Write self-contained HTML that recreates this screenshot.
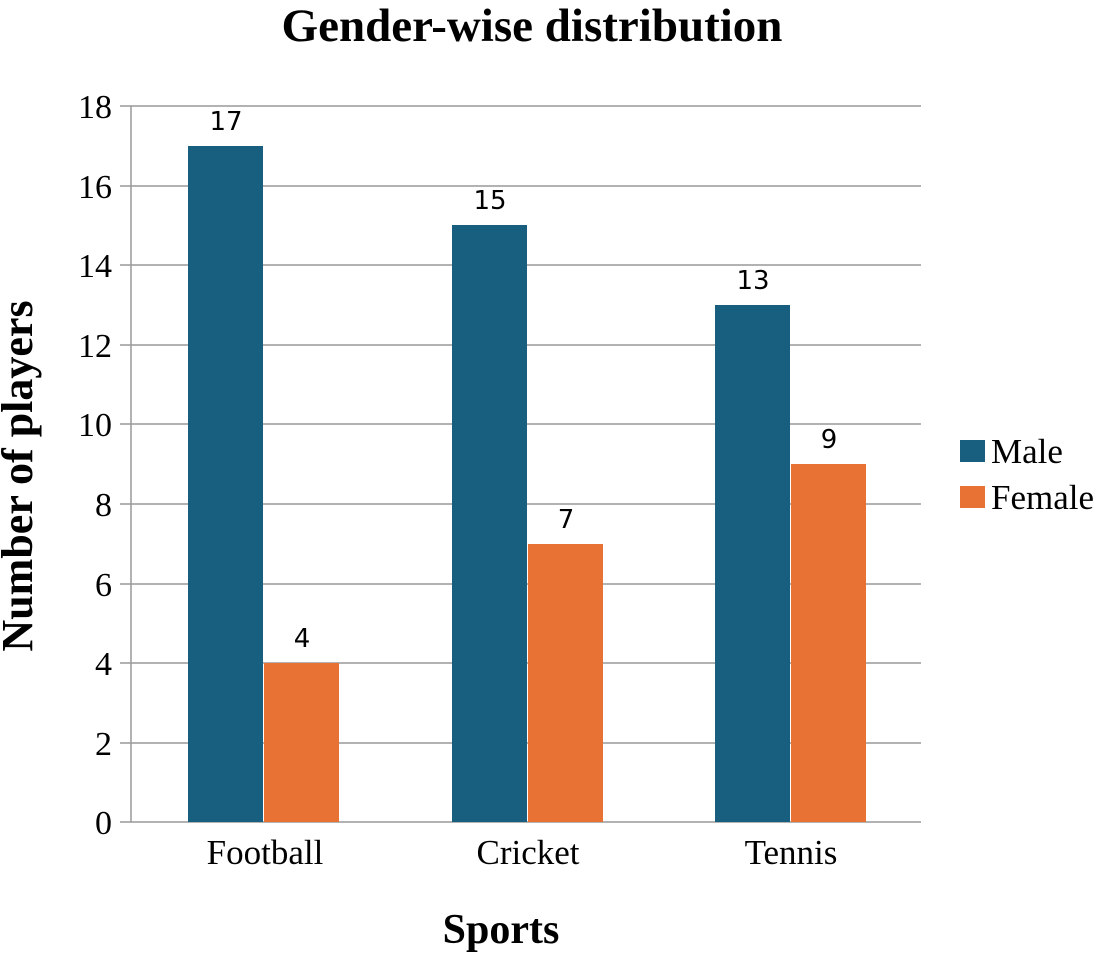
<!DOCTYPE html>
<html><head><style>body{margin:0;background:#fff}</style></head><body>
<svg width="1099" height="959" xmlns="http://www.w3.org/2000/svg">
<rect width="1099" height="959" fill="#fff"/>
<text x="532" y="41" text-anchor="middle" font-family="Liberation Serif, serif" font-weight="bold" font-size="47">Gender-wise distribution</text>
<g stroke="#999" stroke-width="1.5">
<line x1="120" y1="106" x2="921" y2="106"/>
<line x1="120" y1="186" x2="921" y2="186"/>
<line x1="120" y1="265" x2="921" y2="265"/>
<line x1="120" y1="345" x2="921" y2="345"/>
<line x1="120" y1="424" x2="921" y2="424"/>
<line x1="120" y1="504" x2="921" y2="504"/>
<line x1="120" y1="584" x2="921" y2="584"/>
<line x1="120" y1="663" x2="921" y2="663"/>
<line x1="120" y1="743" x2="921" y2="743"/>
<line x1="120" y1="822" x2="921" y2="822"/>
<line x1="131" y1="106" x2="131" y2="822"/>
</g>
<g font-family="Liberation Serif, serif" font-size="34" text-anchor="end" fill="#000">
<text x="112" y="118">18</text><text x="112" y="198">16</text><text x="112" y="277">14</text>
<text x="112" y="357">12</text><text x="112" y="436">10</text><text x="112" y="516">8</text>
<text x="112" y="596">6</text><text x="112" y="675">4</text><text x="112" y="755">2</text><text x="112" y="834">0</text>
</g>
<g fill="#175e7f">
<rect x="188" y="146" width="75" height="676"/>
<rect x="452" y="225" width="75" height="597"/>
<rect x="715" y="305" width="75" height="517"/>
<rect x="960" y="440" width="25" height="22"/>
</g>
<g fill="#e87233">
<rect x="264" y="663" width="75" height="159"/>
<rect x="528" y="544" width="75" height="278"/>
<rect x="791" y="464" width="75" height="358"/>
<rect x="960" y="486" width="25" height="22"/>
</g>
<g font-family="DejaVu Sans, sans-serif" font-size="26" text-anchor="middle">
<text x="226" y="130">17</text><text x="302" y="647">4</text>
<text x="490" y="209">15</text><text x="566" y="528">7</text>
<text x="753" y="289">13</text><text x="829" y="448">9</text>
</g>
<g font-family="Liberation Serif, serif" font-size="35" text-anchor="middle">
<text x="265" y="864">Football</text><text x="528" y="864">Cricket</text><text x="791" y="864">Tennis</text>
</g>
<g font-family="Liberation Serif, serif" font-size="35">
<text x="991" y="463">Male</text><text x="991" y="509">Female</text>
</g>
<text x="501" y="943" text-anchor="middle" font-family="Liberation Serif, serif" font-weight="bold" font-size="42">Sports</text>
<text transform="translate(32,476) rotate(-90)" text-anchor="middle" font-family="Liberation Serif, serif" font-weight="bold" font-size="44">Number of players</text>
</svg>
</body></html>
